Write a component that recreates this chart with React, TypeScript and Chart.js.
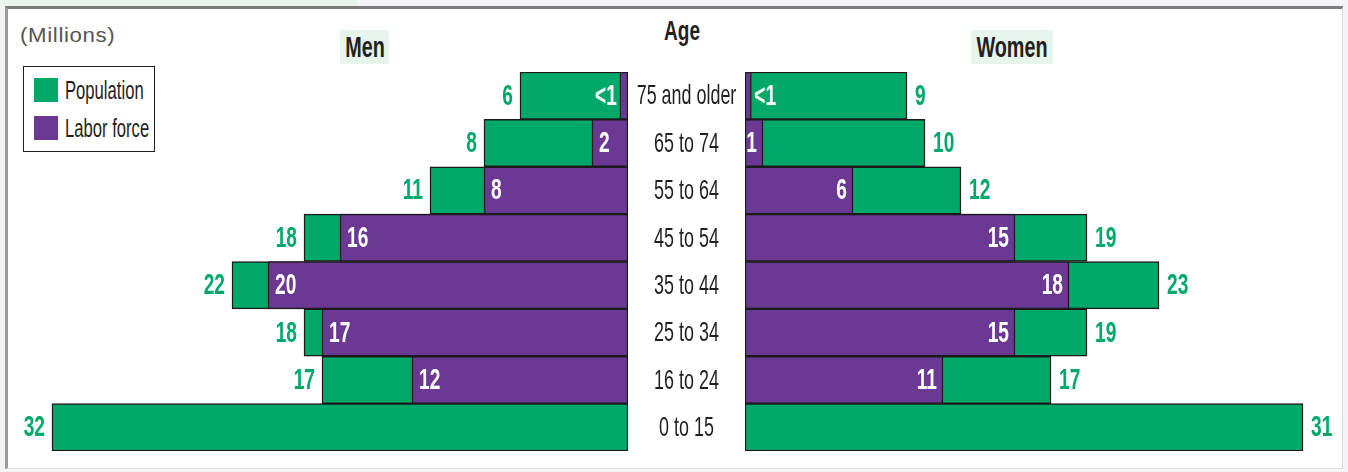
import React, { useEffect, useRef } from "react";
import { Chart, registerables } from "chart.js";

Chart.register(...registerables);

// ---- Data ----
const ageGroups = ["75 and older", "65 to 74", "55 to 64", "45 to 54", "35 to 44", "25 to 34", "16 to 24", "0 to 15"];
const menPopulation = [6, 8, 11, 18, 22, 18, 17, 32];
const menLaborForce: (number | null)[] = [0.45, 2, 8, 16, 20, 17, 12, null];
const menLaborLabels = ["<1", "2", "8", "16", "20", "17", "12", ""];
const womenPopulation = [9, 10, 12, 19, 23, 19, 17, 31];
const womenLaborForce: (number | null)[] = [0.35, 1, 6, 15, 18, 15, 11, null];
const womenLaborLabels = ["<1", "1", "6", "15", "18", "15", "11", ""];

const GREEN = "#00a86a";
const PURPLE = "#6b3894";
const BORDER = "#1b1b1b";
const INK = "#231f20";
const FONT = "'Liberation Sans', Arial, sans-serif";
const NUM_SIZE = 29;
const NUM_SCALE = 0.66;
const AGE_SIZE = 28;
const AGE_SCALE = 0.64;

function drawCondensed(ctx: CanvasRenderingContext2D, text: string, x: number, y: number, align: CanvasTextAlign, sx: number) {
  ctx.save();
  ctx.translate(x, y);
  ctx.scale(sx, 1);
  ctx.textAlign = align;
  ctx.fillText(text, 0, 0);
  ctx.restore();
}

function valueLabelPlugin(side: "men" | "women", pop: number[], labor: (number | null)[], laborLabels: string[]) {
  return {
    id: "valueLabels_" + side,
    afterDatasetsDraw(chart: any) {
      const ctx = chart.ctx as CanvasRenderingContext2D;
      const xs = chart.scales.x;
      const ys = chart.scales.y;
      ctx.save();
      ctx.textBaseline = "middle";
      ctx.font = `bold ${NUM_SIZE}px ${FONT}`;
      pop.forEach((v, i) => {
        const y = ys.getPixelForValue(i) + 1;
        const xe = xs.getPixelForValue(v);
        ctx.fillStyle = GREEN;
        if (side === "men") drawCondensed(ctx, String(v), xe - 7, y, "right", NUM_SCALE);
        else drawCondensed(ctx, String(v), xe + 8, y, "left", NUM_SCALE);
        const l = labor[i];
        const lab = laborLabels[i];
        if (l == null || !lab) return;
        const xl = xs.getPixelForValue(l);
        ctx.fillStyle = "#ffffff";
        const small = l < 1;
        if (side === "men") {
          if (small) drawCondensed(ctx, lab, xl - 3, y, "right", NUM_SCALE);
          else drawCondensed(ctx, lab, xl + 7, y, "left", NUM_SCALE);
        } else {
          if (small) drawCondensed(ctx, lab, xl + 3, y, "left", NUM_SCALE);
          else drawCondensed(ctx, lab, xl - 6, y, "right", NUM_SCALE);
        }
      });
      // age group labels in the gap left of the women's bars (the y axis box)
      if (side === "women") {
        ctx.font = `${AGE_SIZE}px ${FONT}`;
        ctx.fillStyle = INK;
        const cx = (ys.left + ys.right) / 2;
        ys.getLabels().forEach((lab: string, i: number) => {
          drawCondensed(ctx, lab, cx, ys.getPixelForValue(i) + 1, "center", AGE_SCALE);
        });
      }
      ctx.restore();
    },
  };
}

function makeDatasets(pop: number[], labor: (number | null)[]) {
  const common = {
    grouped: false,
    barPercentage: 1,
    categoryPercentage: 1,
    borderColor: BORDER,
    borderWidth: 1.5,
    borderSkipped: false as const,
  };
  return [
    { label: "Labor force", data: labor, backgroundColor: PURPLE, order: 0, ...common },
    { label: "Population", data: pop, backgroundColor: GREEN, order: 1, ...common },
  ];
}

const abs = (s: React.CSSProperties): React.CSSProperties => ({ position: "absolute", ...s });

function CondensedText(props: { left: number; top: number; width: number; height: number; size: number; scale: number; bold?: boolean; bg?: string; align?: "left" | "center"; color?: string; spacing?: number; children: string }) {
  const { left, top, width, height, size, scale, bold, bg, align = "center", color = INK, spacing = 0, children } = props;
  return (
    <div style={abs({ left, top, width, height, background: bg, overflow: "visible" })}>
      <div
        style={{
          position: "absolute",
          left: align === "center" ? "50%" : 0,
          top: 0,
          height,
          lineHeight: height + "px",
          whiteSpace: "nowrap",
          fontFamily: FONT,
          fontSize: size,
          fontWeight: bold ? "bold" : "normal",
          letterSpacing: spacing,
          color,
          transform: align === "center" ? `translateX(-50%) scaleX(${scale})` : `scaleX(${scale})`,
          transformOrigin: align === "center" ? "center center" : "left center",
        }}
      >
        {children}
      </div>
    </div>
  );
}

export default function App() {
  const menRef = useRef<HTMLCanvasElement | null>(null);
  const womenRef = useRef<HTMLCanvasElement | null>(null);

  useEffect(() => {
    const men = new Chart(menRef.current as HTMLCanvasElement, {
      type: "bar",
      data: { labels: ageGroups, datasets: makeDatasets(menPopulation, menLaborForce) as any },
      options: {
        indexAxis: "y",
        responsive: false,
        animation: false,
        devicePixelRatio: 1,
        layout: { padding: { left: 16, right: 12, top: 72, bottom: 21 } },
        plugins: { legend: { display: false }, tooltip: { enabled: false }, title: { display: false } },
        scales: {
          x: { type: "linear", min: 0, max: 34, reverse: true, display: false },
          y: { type: "category", display: false },
        },
      },
      plugins: [valueLabelPlugin("men", menPopulation, menLaborForce, menLaborLabels)],
    });

    const women = new Chart(womenRef.current as HTMLCanvasElement, {
      type: "bar",
      data: { labels: ageGroups, datasets: makeDatasets(womenPopulation, womenLaborForce) as any },
      options: {
        indexAxis: "y",
        responsive: false,
        animation: false,
        devicePixelRatio: 1,
        layout: { padding: { left: 0, right: 9, top: 72, bottom: 21 } },
        plugins: { legend: { display: false }, tooltip: { enabled: false }, title: { display: false } },
        scales: {
          x: { type: "linear", min: 0, max: 33, display: false },
          y: {
            type: "category",
            position: "left",
            grid: { display: false, drawTicks: false },
            border: { display: false },
            ticks: { display: false },
            afterFit(axis: any) {
              axis.width = 117;
            },
          },
        },
      },
      plugins: [valueLabelPlugin("women", womenPopulation, womenLaborForce, womenLaborLabels)],
    });

    return () => {
      men.destroy();
      women.destroy();
    };
  }, []);

  return (
    <div style={{ position: "fixed", left: 0, top: 0, width: 1348, height: 472, background: "#f4f3f6", overflow: "hidden" }}>
      <div style={abs({ left: 0, top: 0, width: 357, height: 6, background: "#e7f4ec" })} />
      <div
        style={abs({
          left: 5,
          top: 6,
          width: 1338,
          height: 463,
          background: "#ffffff",
          borderTop: "3px solid #7a7a7a",
          borderLeft: "3px solid #9a9a9a",
          borderRight: "1px solid #d8d8d8",
          borderBottom: "1px solid #e0e0e0",
          boxSizing: "border-box",
        })}
      />
      <CondensedText left={20} top={20} width={110} height={30} size={21} scale={1.06} spacing={0.6} align="left" color="#555555">
        (Millions)
      </CondensedText>
      <CondensedText left={340} top={30} width={49} height={34} size={30} scale={0.66} bold bg="#e6f4ec">
        Men
      </CondensedText>
      <CondensedText left={971} top={30} width={82} height={34} size={30} scale={0.66} bold bg="#e6f4ec">
        Women
      </CondensedText>
      <CondensedText left={632} top={14} width={100} height={34} size={28} scale={0.68} bold>
        Age
      </CondensedText>
      <div style={abs({ left: 23, top: 66, width: 132, height: 86, border: "1px solid #231f20", boxSizing: "border-box", background: "#fff" })} />
      <div style={abs({ left: 34, top: 78, width: 24, height: 24, background: GREEN })} />
      <div style={abs({ left: 34, top: 116, width: 24, height: 24, background: PURPLE })} />
      <CondensedText left={65} top={76} width={90} height={28} size={26} scale={0.64} align="left">
        Population
      </CondensedText>
      <CondensedText left={65} top={114} width={90} height={28} size={26} scale={0.64} align="left">
        Labor force
      </CondensedText>
      <canvas ref={menRef} width={640} height={472} style={abs({ left: 0, top: 0, width: 640, height: 472 })} />
      <canvas ref={womenRef} width={720} height={472} style={abs({ left: 628, top: 0, width: 720, height: 472 })} />
    </div>
  );
}
